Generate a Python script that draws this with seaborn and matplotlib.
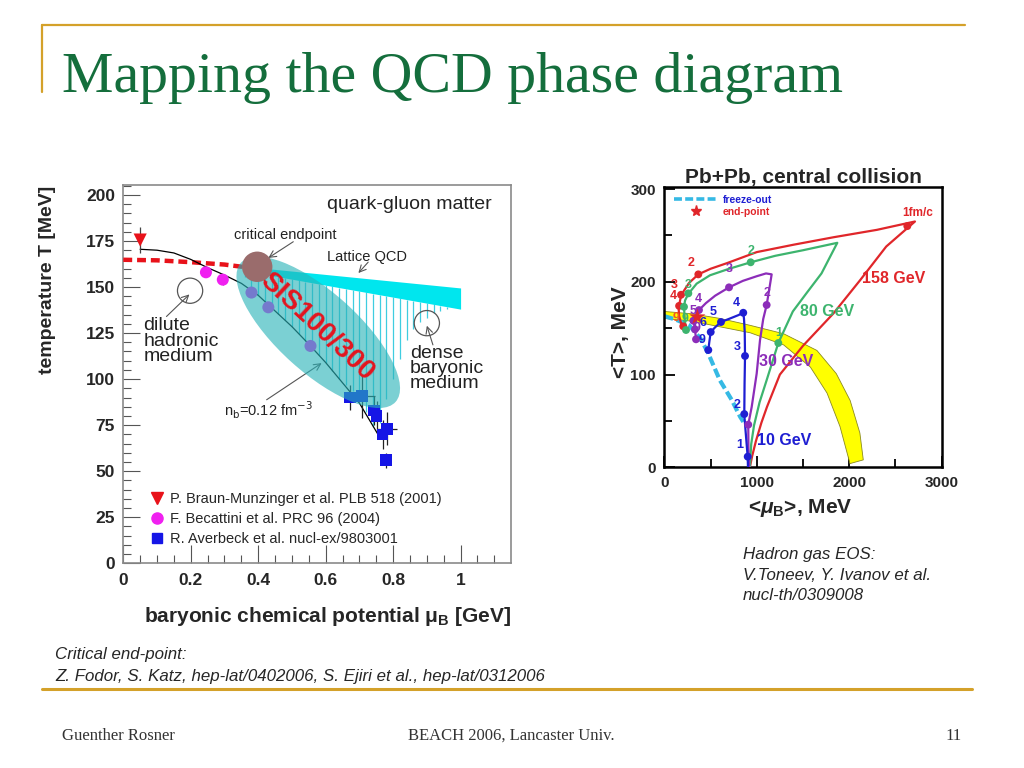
import numpy as np
import pandas as pd
import matplotlib
matplotlib.use("Agg")
import matplotlib.pyplot as plt
import seaborn as sns
from matplotlib.patches import Ellipse, Polygon
from matplotlib.lines import Line2D
from matplotlib.transforms import ScaledTranslation
from matplotlib.ticker import MultipleLocator

# ======================= LEFT PANEL DATA =======================
bm_mu = [0.05]
bm_T = [175.5]
bm_Terr = [7.0]

bec_mu = [0.245, 0.295, 0.38, 0.43, 0.555]
bec_T = [158, 154, 147, 139, 118]
bec_Terr = [2.5, 3.0, 2.5, 2.5, 3.0]

av_mu = [0.672, 0.707, 0.744, 0.751, 0.769, 0.781, 0.779]
av_T = [90, 91, 83, 80, 70, 73, 56]
av_muerr = [0.005, 0.04, 0.008, 0.008, 0.01, 0.03, 0.005]
av_Terr = [7, 12, 8, 8, 8, 9, 4]

nb_mu = [0.05, 0.1, 0.15, 0.2, 0.25, 0.3, 0.35, 0.4, 0.45, 0.5, 0.55, 0.6, 0.65, 0.7, 0.755]
nb_T = [170.5, 170, 168.5, 165, 160.5, 156.5, 152, 145.5, 137, 128.5, 119, 109, 98, 87, 70]

pt_mu = [0.0, 0.1, 0.2, 0.3, 0.365]
pt_T = [164.8, 164.5, 163.5, 162.2, 160.7]

cep_mu = [0.397]
cep_T = [161]

lat_mu = [0.40, 1.00]
lat_T_hi = [160.5, 149.5]
lat_T_lo = [157.5, 138.0]

hatch_top_mu = [0.36, 0.40, 1.00]
hatch_top_T = [160.7, 157.5, 138.0]
hatch_bot_mu = [0.36, 0.38, 0.40, 0.45, 0.50, 0.55, 0.60, 0.65, 0.70, 0.72, 0.74, 0.76,
                0.78, 0.80, 0.82, 0.84, 0.86, 0.88, 0.90, 0.92, 0.96]
hatch_bot_T = [155.5, 150, 145.5, 137, 128.5, 119, 109, 98, 91, 82, 74, 76,
               89, 100, 111, 121, 127, 131, 133, 136, 138]

medium_mu = [0.198, 0.90]
medium_T = [148, 130.4]

legend_labels = ["P. Braun-Munzinger et al. PLB 518 (2001)",
                 "F. Becattini et al. PRC 96 (2004)",
                 "R. Averbeck et al. nucl-ex/9803001"]

# ======================= RIGHT PANEL DATA =======================
red_mu = [925, 950, 990, 1050, 1110, 1250, 1500, 1830, 2120, 2400, 2711,
          2300, 1830, 1400, 1000, 675, 500, 368, 270, 210, 175, 155, 160, 180, 205]
red_T = [0, 12, 28, 48, 65, 100, 131, 166, 202, 238, 265,
         256, 248, 240, 232, 220, 214, 208, 199, 190, 182, 172, 163, 156, 151]
red_dot_mu = [2628, 368, 181, 160, 205]
red_dot_T = [260, 208, 186, 174, 152]

green_mu = [925, 940, 970, 1030, 1107, 1233, 1390, 1540, 1700, 1871,
            1500, 1200, 934, 700, 494, 350, 260, 225, 213, 222, 240]
green_T = [0, 25, 45, 70, 94, 134, 168, 188, 209, 242,
           234, 228, 221, 214, 207, 198, 187, 180, 173, 158, 147]
green_dot_mu = [1233, 934, 260, 213, 235]
green_dot_T = [134, 221, 187.5, 173, 148]

purple_mu = [919, 910, 908, 945, 999, 1035, 1070, 1107, 1140, 1161,
             1100, 1000, 850, 700, 550, 450, 375, 330, 314, 332, 343]
purple_T = [0, 20, 46, 65, 101, 137, 160, 175, 195, 208,
            209, 206, 201, 194, 185, 177, 169.5, 163, 158, 148.7, 138]
purple_dot_mu = [908, 1107, 700, 375, 314, 332, 343]
purple_dot_T = [46, 175, 194, 169.5, 158, 148.7, 138]

blue_mu = [905, 902, 880, 865, 868, 873, 870, 862, 854, 800, 700, 613, 550, 502, 488, 476]
blue_T = [0, 11, 38, 57, 90, 120, 145, 160, 166.6, 164, 160, 156.6, 151, 145.8, 136, 126.4]
blue_dot_mu = [902, 865, 873, 854, 613, 502, 476]
blue_dot_T = [11.5, 57.4, 120, 166.6, 156.6, 145.8, 126.4]

fo_mu = [0, 130, 270, 390, 470, 600, 730, 820, 855]
fo_T = [163, 159, 153, 139, 124, 94, 72.5, 54.5, 49]

ep_mu = [357]
ep_T = [162]

band_out_mu = [0, 300, 600, 930, 1290, 1650, 1860, 2010, 2115, 2152]
band_out_T = [168, 165.5, 160.5, 153, 144, 126, 101, 72, 37, 8]
band_in_mu = [0, 300, 600, 930, 1290, 1580, 1760, 1900, 2008]
band_in_T = [160.5, 157.5, 151.5, 145, 132, 108, 80, 44, 4]

num_labels = [  # text, mu, T, color key
    ("2", 285, 220, "red"), ("3", 105, 197, "red"), ("4", 94, 185, "red"), ("9", 130, 161, "orange"),
    ("2", 934, 233, "green"), ("3", 262, 197, "green"), ("1", 1233, 145, "green"), ("9", 226, 160, "green"),
    ("3", 703, 214, "purple"), ("2", 1107, 188, "purple"), ("4", 368, 181, "purple"),
    ("5", 316, 169, "purple"), ("9", 350, 150, "purple"),
    ("4", 775, 177, "blue"), ("5", 530, 167, "blue"), ("6", 422, 156, "blue"), ("9", 404, 137, "blue"),
    ("3", 790, 130, "blue"), ("2", 783, 67, "blue"), ("1", 819, 24, "blue"),
]
energy_labels = [("158 GeV", 2135, 203, "red"), ("80 GeV", 1467, 168, "green"),
                 ("30 GeV", 1028, 114, "purple"), ("10 GeV", 999, 29, "blue")]

C = {"red": "#E0262A", "green": "#3DB46E", "purple": "#8C2DB9", "blue": "#1E1ED2",
     "orange": "#F05A1E", "cyan": "#35B9E4"}

# ======================= STYLE =======================
sns.set_theme(style="white")
plt.rcParams["font.family"] = ["Liberation Sans", "DejaVu Sans"]
plt.rcParams["mathtext.fontset"] = "custom"
plt.rcParams["mathtext.rm"] = "Liberation Sans:bold"
plt.rcParams["mathtext.it"] = "Liberation Sans:italic:bold"
plt.rcParams["mathtext.bf"] = "Liberation Sans:bold"

W, H = 1024, 768
fig = plt.figure(figsize=(10.24, 7.68), dpi=100)
fig.patch.set_facecolor("white")


def fx(px):
    return px / W


def fy(py):
    return 1 - py / H


GOLD = "#D4A12A"
fig.add_artist(Line2D([fx(42), fx(965)], [fy(25), fy(25)], color=GOLD, lw=1.6))
fig.add_artist(Line2D([fx(42), fx(42)], [fy(25), fy(92)], color=GOLD, lw=1.6))
fig.add_artist(Line2D([fx(42), fx(972)], [fy(689), fy(689)], color=GOLD, lw=2.2))
fig.text(fx(62), fy(92), "Mapping the QCD phase diagram", family="Liberation Serif",
         fontsize=41.7, color="#146E3C", va="baseline", ha="left")
fig.text(fx(62), fy(736), "Guenther Rosner", family="Liberation Serif", fontsize=12,
         color="#333333", va="center", ha="left")
fig.text(fx(511), fy(736), "BEACH 2006, Lancaster Univ.", family="Liberation Serif", fontsize=12,
         color="#333333", va="center", ha="center")
fig.text(fx(962), fy(736), "11", family="Liberation Serif", fontsize=12,
         color="#333333", va="center", ha="right")
fig.text(fx(55), fy(655), "Critical end-point:", fontsize=12.2, style="italic", va="center")
fig.text(fx(55), fy(676), "Z. Fodor, S. Katz, hep-lat/0402006, S. Ejiri et al., hep-lat/0312006",
         fontsize=12.2, style="italic", va="center")
for txt, yy in [("Hadron gas EOS:", 555), ("V.Toneev, Y. Ivanov et al.", 575), ("nucl-th/0309008", 595)]:
    fig.text(fx(743), fy(yy), txt, fontsize=12.2, style="italic", va="center")

# ======================= LEFT PANEL =======================
axL = fig.add_axes([fx(123.3), fy(563.3), (510.7 - 123.3) / W, (563.3 - 185) / H])
axL.set_xlim(0, 1.1486)
axL.set_ylim(0, 205.4)

hx = np.arange(0.36, 0.965, 0.02)
h_lo = np.interp(hx, hatch_bot_mu, hatch_bot_T)
h_hi = np.interp(hx, hatch_top_mu, hatch_top_T)
axL.vlines(hx, h_lo, h_hi, color="#3FCDE0", lw=0.9, zorder=1)

axL.fill_between(lat_mu, lat_T_lo, lat_T_hi, color="#00E6EE", lw=0, zorder=2)
sns.lineplot(x=pt_mu, y=pt_T, ax=axL, color="#E8121A", lw=3.2, sort=False, estimator=None,
             zorder=3).lines[-1].set_dashes([2.0, 1.1])
sns.lineplot(x=nb_mu, y=nb_T, ax=axL, color="black", lw=0.9, sort=False, estimator=None, zorder=3)

axL.errorbar(bm_mu, bm_T, yerr=bm_Terr, fmt="none", ecolor="#444", lw=0.9, zorder=3)
axL.errorbar(bec_mu, bec_T, yerr=bec_Terr, fmt="none", ecolor="#666", lw=0.8, zorder=3)
axL.errorbar(av_mu, av_T, xerr=av_muerr, yerr=av_Terr, fmt="none", ecolor="#222", lw=0.9, zorder=3)
sns.scatterplot(x=bm_mu, y=bm_T, ax=axL, marker="v", s=90, color="#E8121A", edgecolor="none", zorder=4)
sns.scatterplot(x=bec_mu, y=bec_T, ax=axL, marker="o", s=75, color="#F020F0", edgecolor="none", zorder=4)
sns.scatterplot(x=av_mu, y=av_T, ax=axL, marker="s", s=70, color="#1515E6", edgecolor="none", zorder=4)

# transparent SIS100/300 ellipse (drawn in display inches around a data point)
ell_tr = fig.dpi_scale_trans + ScaledTranslation(0.578, 125.4, axL.transData)
axL.add_patch(Ellipse((0, 0), 2.08, 0.80, angle=-42, transform=ell_tr,
                      facecolor="#2AB3B8", alpha=0.62, edgecolor="none", zorder=5))
sns.scatterplot(x=cep_mu, y=cep_T, ax=axL, marker="o", s=480, color="#9A6C6C", edgecolor="none", zorder=6)
sns.scatterplot(x=medium_mu, y=medium_T, ax=axL, marker="o", s=330, facecolor="none",
                edgecolor="#555555", linewidth=0.9, zorder=4)

axL.text(0.573, 128.6, "SIS100/300", color="#E4141E", fontsize=20, fontweight="bold",
         rotation=-43, ha="center", va="center", rotation_mode="anchor", zorder=7)
axL.text(0.849, 194.8, "quark-gluon matter", fontsize=14, color="#222", ha="center", va="center")
arr = dict(arrowstyle="->", color="#555555", lw=0.8, shrinkA=0, shrinkB=0)
axL.text(0.479, 178.4, "critical endpoint", fontsize=10.5, color="#222", ha="center", va="center")
axL.annotate("", xy=(0.43, 165.8), xytext=(0.504, 174.6), arrowprops=arr)
axL.text(0.724, 166.3, "Lattice QCD", fontsize=10.5, color="#222", ha="center", va="center")
axL.annotate("", xy=(0.697, 157.6), xytext=(0.726, 163.5), arrowprops=arr)
axL.text(0.059, 133.5, "dilute\nhadronic\nmedium", fontsize=14, color="#222", ha="left", va="top",
         linespacing=0.86)
axL.annotate("", xy=(0.196, 146), xytext=(0.128, 134), arrowprops=arr)
axL.text(0.85, 118.5, "dense\nbaryonic\nmedium", fontsize=14, color="#222", ha="left", va="top",
         linespacing=0.86)
axL.annotate("", xy=(0.9, 129), xytext=(0.918, 118.6), arrowprops=arr)
axL.text(0.299, 83.3, r"n$_{\rm b}$=0.12 fm$^{-3}$", fontsize=10.5, color="#222", ha="left", va="center",
         math_fontfamily="dejavusans")
axL.annotate("", xy=(0.588, 108.7), xytext=(0.425, 88.8), arrowprops=arr)

hL = [Line2D([], [], ls="none", marker="v", ms=9, color="#E8121A"),
      Line2D([], [], ls="none", marker="o", ms=8, color="#F020F0"),
      Line2D([], [], ls="none", marker="s", ms=7.5, color="#1515E6")]
axL.legend(hL, legend_labels, loc="lower left", bbox_to_anchor=(0.067, 0.045), frameon=False,
           fontsize=10.5, handlelength=1.0, handletextpad=0.4, labelspacing=0.42,
           borderpad=0, borderaxespad=0)

for s in ["top", "right", "bottom", "left"]:
    axL.spines[s].set_color("#8A8A8A")
    axL.spines[s].set_linewidth(1.2)
axL.set_xticks([0, 0.2, 0.4, 0.6, 0.8, 1.0])
axL.set_xticklabels(["0", "0.2", "0.4", "0.6", "0.8", "1"])
axL.xaxis.set_minor_locator(MultipleLocator(0.05))
axL.yaxis.set_major_locator(MultipleLocator(25))
axL.yaxis.set_minor_locator(MultipleLocator(5))
axL.tick_params(axis="both", which="both", direction="in", color="#555555", width=0.8,
                left=True, bottom=True, top=False, right=False)
axL.tick_params(axis="y", which="major", length=12, pad=6, labelsize=12.5)
axL.tick_params(axis="y", which="minor", length=6)
axL.tick_params(axis="x", which="major", length=13, pad=7, labelsize=12.5)
axL.tick_params(axis="x", which="minor", length=6)
for lab in axL.get_xticklabels() + axL.get_yticklabels():
    lab.set_fontweight("bold")
axL.set_ylabel("temperature T [MeV]", fontsize=14, fontweight="bold")
axL.yaxis.set_label_coords(-0.175, 0.749)
axL.set_xlabel(r"baryonic chemical potential $\mathrm{μ}_{\mathrm{B}}$ [GeV]", fontsize=15,
               fontweight="bold", ha="right")
axL.xaxis.set_label_coords(1.0, -0.11)

# ======================= RIGHT PANEL =======================
axR = fig.add_axes([fx(664.3), fy(467.3), (941.7 - 664.3) / W, (467.3 - 186.7) / H])
axR.set_xlim(0, 3000)
axR.set_ylim(0, 302.5)

band_poly = list(zip(band_out_mu, band_out_T)) + list(zip(band_in_mu[::-1], band_in_T[::-1]))
axR.add_patch(Polygon(band_poly, closed=True, facecolor="#FFFF00", edgecolor="#8A8A20", lw=0.6, zorder=1))

fo = sns.lineplot(x=fo_mu, y=fo_T, ax=axR, color=C["cyan"], lw=3.0, sort=False, estimator=None, zorder=2)
fo.lines[-1].set_dashes([2.2, 0.9])

for mu, T, dmu, dT, key in [(red_mu, red_T, red_dot_mu, red_dot_T, "red"),
                            (green_mu, green_T, green_dot_mu, green_dot_T, "green"),
                            (purple_mu, purple_T, purple_dot_mu, purple_dot_T, "purple"),
                            (blue_mu, blue_T, blue_dot_mu, blue_dot_T, "blue")]:
    sns.lineplot(x=mu, y=T, ax=axR, color=C[key], lw=1.6, sort=False, estimator=None, zorder=3)
    sns.scatterplot(x=dmu, y=dT, ax=axR, color=C[key], s=32, edgecolor="none", zorder=4)

sns.scatterplot(x=ep_mu, y=ep_T, ax=axR, marker="*", s=150, color="#E0262A", edgecolor="none", zorder=5)

for txt, mu, T, key in num_labels:
    axR.text(mu, T, txt, color=C[key], fontsize=9, fontweight="bold", ha="center", va="center", zorder=6)
for txt, mu, T, key in energy_labels:
    axR.text(mu, T, txt, color=C[key], fontsize=11.5, fontweight="bold", ha="left", va="center", zorder=6)
axR.text(2908, 274, "1fm/c", color=C["red"], fontsize=8.5, fontweight="bold", ha="right", va="center")

hR = [Line2D([], [], color=C["cyan"], lw=2.6, dashes=[2.2, 0.9]),
      Line2D([], [], ls="none", marker="*", ms=8, color="#E0262A")]
axR.legend(hR, ["freeze-out", "end-point"], loc="upper left", bbox_to_anchor=(0.035, 0.97),
           frameon=False, prop={"size": 7.5, "weight": "bold"}, labelcolor=[C["blue"], C["red"]],
           handlelength=4.2, handletextpad=0.5, labelspacing=0.15, borderpad=0, borderaxespad=0)

for s in ["top", "right", "bottom", "left"]:
    axR.spines[s].set_color("black")
    axR.spines[s].set_linewidth(1.8)
axR.set_xticks([0, 1000, 2000, 3000])
axR.set_yticks([0, 100, 200, 300])
axR.xaxis.set_minor_locator(MultipleLocator(500))
axR.yaxis.set_minor_locator(MultipleLocator(50))
axR.tick_params(axis="both", which="both", direction="in", color="black", width=1.3,
                left=True, bottom=True, top=False, right=False)
axR.tick_params(axis="both", which="major", length=8, pad=6, labelsize=11)
axR.tick_params(axis="both", which="minor", length=6)
for lab in axR.get_xticklabels() + axR.get_yticklabels():
    lab.set_fontweight("bold")
axR.set_title("Pb+Pb, central collision", fontsize=15, fontweight="bold", pad=1)
axR.set_ylabel("<T>, MeV", fontsize=15, fontweight="bold")
axR.yaxis.set_label_coords(-0.125, 0.483)
axR.set_xlabel(r"<$μ_{\mathrm{B}}$>, MeV", fontsize=15, fontweight="bold")
axR.xaxis.set_label_coords(0.489, -0.105)

fig.savefig("out.png", dpi=100, facecolor="white")
